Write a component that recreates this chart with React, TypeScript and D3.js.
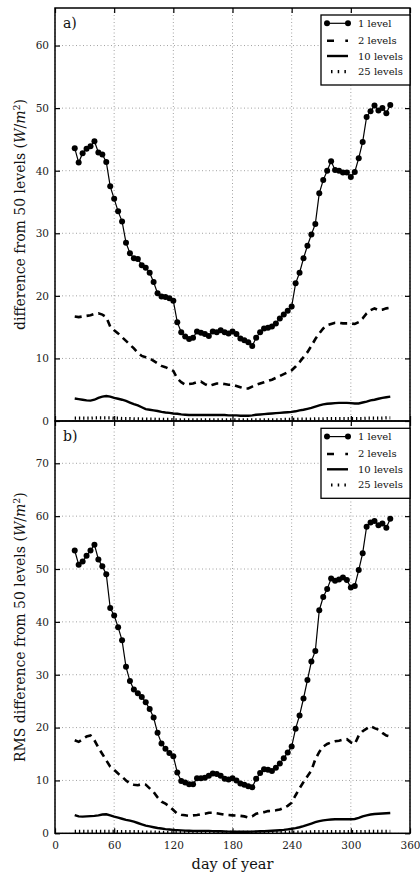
import { useEffect, useRef } from "react";
import * as d3 from "d3";

// sampling days (every 4th day of the year, 20..340)
const days = d3.range(20, 341, 4);

const xTicks = [0, 60, 120, 180, 240, 300, 360];
const yTicksA = [0, 10, 20, 30, 40, 50, 60];
const yTicksB = [0, 10, 20, 30, 40, 50, 60, 70];
const legendLabels = ["1 level", "2 levels", "10 levels", "25 levels"];

// panel a) difference from 50 levels
const a1 = [
  43.6, 41.3, 42.8, 43.5, 43.9, 44.7, 42.9, 42.6, 41.4, 37.5,
  35.5, 33.5, 31.9, 28.5, 26.8, 26.0, 25.9, 24.9, 24.5, 23.7,
  22.2, 20.4, 19.9, 19.8, 19.6, 19.2, 15.8, 14.2, 13.5, 13.1,
  13.3, 14.3, 14.1, 13.9, 13.6, 14.3, 14.2, 14.5, 14.2, 14.0,
  14.3, 13.9, 13.2, 12.9, 12.6, 12.0, 13.3, 14.2, 14.8, 14.9,
  15.1, 15.6, 16.4, 17.0, 17.6, 18.3, 22.0, 23.7, 26.0, 28.0,
  29.8, 31.5, 36.4, 38.5, 40.0, 41.5, 40.1, 40.0, 39.7, 39.7,
  39.0, 39.8, 42.0, 44.6, 48.6, 49.5, 50.4, 49.6, 50.0, 49.2,
  50.5,
];
const a2 = [
  16.7, 16.6, 16.7, 16.8, 16.9, 17.1, 17.2, 17.0, 16.6, 15.1,
  14.5, 14.0, 13.4, 12.8, 12.2, 11.6, 10.9, 10.4, 10.2, 10.0,
  9.6, 9.2, 8.8, 8.6, 8.3, 8.0, 6.8, 6.2, 5.8, 5.9,
  6.0, 6.2, 6.3, 5.9, 5.6, 5.8, 6.0, 6.0, 5.9, 5.8,
  5.8, 5.6, 5.4, 5.2, 5.2, 5.5, 5.8, 6.0, 6.2, 6.4,
  6.6, 6.9, 7.2, 7.5, 7.8, 8.1, 8.7, 9.4, 10.2, 11.0,
  12.0, 13.1, 14.0, 14.8, 15.3, 15.5, 15.7, 15.7, 15.6, 15.6,
  15.6, 15.5, 15.8, 16.4, 17.2, 17.7, 18.0, 17.7, 17.8, 18.0,
  18.1,
];
const a10 = [
  3.6, 3.5, 3.4, 3.3, 3.25, 3.4, 3.7, 3.9, 4.0, 3.9,
  3.7, 3.55, 3.4, 3.2, 2.95, 2.7, 2.5, 2.2, 1.9, 1.8,
  1.7, 1.6, 1.45, 1.35, 1.3, 1.2, 1.15, 1.05, 1.0, 0.95,
  0.95, 0.95, 0.95, 0.95, 0.95, 0.95, 0.95, 0.95, 0.95, 0.9,
  0.9, 0.9, 0.85, 0.85, 0.85, 0.9, 1.0, 1.05, 1.1, 1.15,
  1.2, 1.25, 1.3, 1.35, 1.4, 1.45, 1.55, 1.7, 1.8, 1.95,
  2.1, 2.3, 2.5, 2.65, 2.75, 2.8, 2.85, 2.9, 2.9, 2.9,
  2.85, 2.8, 2.8, 2.95, 3.1, 3.3, 3.4, 3.55, 3.7, 3.8,
  3.9,
];
const a25 = [
  0.45, 0.45, 0.45, 0.45, 0.45, 0.5, 0.5, 0.5, 0.5, 0.5,
  0.45, 0.45, 0.4, 0.4, 0.4, 0.35, 0.35, 0.3, 0.3, 0.3,
  0.3, 0.25, 0.25, 0.25, 0.25, 0.2, 0.2, 0.2, 0.2, 0.2,
  0.2, 0.2, 0.2, 0.2, 0.2, 0.2, 0.2, 0.2, 0.2, 0.2,
  0.2, 0.2, 0.2, 0.2, 0.2, 0.2, 0.2, 0.2, 0.2, 0.2,
  0.2, 0.2, 0.2, 0.25, 0.25, 0.25, 0.25, 0.3, 0.3, 0.3,
  0.3, 0.35, 0.35, 0.35, 0.4, 0.4, 0.4, 0.4, 0.4, 0.4,
  0.4, 0.4, 0.4, 0.4, 0.45, 0.45, 0.45, 0.45, 0.45, 0.5,
  0.5,
];

// panel b) RMS difference from 50 levels
const b1 = [
  53.5, 50.8, 51.4, 52.5, 53.5, 54.6, 51.8, 50.5, 49.0, 42.6,
  41.2, 39.0, 36.5, 31.5, 28.8, 27.2, 26.5, 25.8, 24.8, 23.5,
  21.9, 19.0, 17.0, 16.0, 15.2, 14.6, 11.5, 9.9, 9.6, 9.3,
  9.3, 10.4, 10.4, 10.5, 10.9, 11.3, 11.2, 10.9, 10.3, 10.2,
  10.4, 10.0, 9.4, 9.2, 8.9, 8.7, 10.3, 11.4, 12.1, 12.0,
  11.8, 12.4, 13.2, 14.2, 15.3, 16.4, 19.8, 22.3, 25.5, 29.0,
  32.5, 34.5, 42.2, 44.7, 46.2, 48.2, 47.8, 48.0, 48.4, 47.9,
  46.5, 46.8, 49.8, 53.0, 58.0, 58.8, 59.1, 58.3, 58.6, 57.8,
  59.5,
];
const b2 = [
  17.6, 17.3, 17.8, 18.3, 18.5, 17.6, 16.2, 15.0, 13.8, 12.6,
  12.0, 11.3, 10.7, 10.0, 9.45, 9.2, 9.1, 9.3, 9.2, 8.5,
  7.8, 6.8, 6.0, 5.6, 5.1, 4.4, 3.7, 3.5, 3.4, 3.3,
  3.4, 3.45, 3.6, 3.7, 3.9, 3.9, 3.8, 3.65, 3.5, 3.45,
  3.4, 3.35, 3.3, 3.2, 3.0, 3.2, 3.7, 3.9, 4.0, 4.2,
  4.25, 4.35, 4.5, 4.8, 5.2, 5.8, 7.2, 8.5, 9.7, 10.8,
  11.9, 14.0, 15.4, 16.4, 16.9, 17.2, 17.4, 17.5, 17.7, 17.8,
  17.2, 16.9, 18.5, 19.3, 19.8, 20.3, 19.9, 19.6, 19.0, 18.5,
  18.3,
];
const b10 = [
  3.45, 3.2, 3.15, 3.2, 3.25, 3.3, 3.4, 3.55, 3.6, 3.4,
  3.15, 2.95, 2.75, 2.55, 2.4, 2.2, 1.95, 1.7, 1.45, 1.3,
  1.15, 1.0, 0.9, 0.8, 0.72, 0.65, 0.6, 0.55, 0.5, 0.47,
  0.45, 0.45, 0.45, 0.45, 0.45, 0.42, 0.4, 0.38, 0.35, 0.32,
  0.3, 0.3, 0.3, 0.3, 0.3, 0.32, 0.35, 0.38, 0.4, 0.43,
  0.47, 0.52, 0.58, 0.65, 0.75, 0.85, 0.98, 1.15, 1.35, 1.6,
  1.85, 2.1, 2.3, 2.45, 2.55, 2.6, 2.65, 2.65, 2.65, 2.65,
  2.65, 2.7, 2.9, 3.2, 3.4, 3.55, 3.65, 3.7, 3.75, 3.8,
  3.85,
];
const b25 = [
  0.35, 0.35, 0.35, 0.35, 0.35, 0.35, 0.35, 0.35, 0.35, 0.35,
  0.35, 0.3, 0.3, 0.3, 0.3, 0.3, 0.3, 0.25, 0.25, 0.25,
  0.25, 0.2, 0.2, 0.2, 0.2, 0.2, 0.2, 0.2, 0.2, 0.2,
  0.2, 0.2, 0.2, 0.2, 0.2, 0.2, 0.2, 0.2, 0.2, 0.2,
  0.2, 0.2, 0.2, 0.2, 0.2, 0.2, 0.2, 0.2, 0.2, 0.2,
  0.2, 0.2, 0.2, 0.2, 0.2, 0.25, 0.25, 0.25, 0.25, 0.25,
  0.3, 0.3, 0.3, 0.3, 0.3, 0.3, 0.3, 0.3, 0.3, 0.3,
  0.3, 0.3, 0.3, 0.3, 0.35, 0.35, 0.35, 0.35, 0.35, 0.35,
  0.35,
];

const FONT = "DejaVu Serif";

export default function App() {
  const svgRef = useRef<SVGSVGElement>(null);

  useEffect(() => {
    if (!svgRef.current) return;
    const svg = d3.select(svgRef.current);
    svg.selectAll("*").remove();

    const left = 55;
    const right = 410;
    const x = d3.scaleLinear().domain([0, 360]).range([left, right]);

    const panels = [
      { top: 8, bottom: 421, yMax: 66, yTicks: yTicksA, series: [a1, a2, a10, a25], tag: "a)", label: "difference from 50 levels (", legendTop: 15, xLabels: false },
      { top: 421, bottom: 833.3, yMax: 78, yTicks: yTicksB, series: [b1, b2, b10, b25], tag: "b)", label: "RMS difference from 50 levels (", legendTop: 428.3, xLabels: true },
    ];

    panels.forEach((p) => {
      const y = d3.scaleLinear().domain([0, p.yMax]).range([p.bottom, p.top]);
      const g = svg.append("g");

      // dotted grid
      g.append("g").selectAll("line").data(xTicks).enter().append("line")
        .attr("x1", (d) => x(d)).attr("x2", (d) => x(d))
        .attr("y1", p.top).attr("y2", p.bottom)
        .attr("stroke", "#8a8a8a").attr("stroke-width", 0.8).attr("stroke-dasharray", "1,2.5");
      g.append("g").selectAll("line").data(p.yTicks).enter().append("line")
        .attr("x1", left).attr("x2", right)
        .attr("y1", (d) => y(d)).attr("y2", (d) => y(d))
        .attr("stroke", "#8a8a8a").attr("stroke-width", 0.8).attr("stroke-dasharray", "1,2.5");

      // axes, ticks pointing inward
      const styleAxis = (sel: any) => {
        sel.select(".domain").remove();
        sel.selectAll("line").attr("stroke", "#000").attr("stroke-width", 1.2);
        sel.selectAll("text").attr("font-family", FONT).attr("font-size", 10.5).attr("fill", "#222");
      };
      g.append("g").attr("transform", `translate(${left},0)`)
        .call(d3.axisLeft(y).tickValues(p.yTicks).tickSize(-5).tickPadding(6).tickFormat(d3.format("d")))
        .call(styleAxis);
      g.append("g").attr("transform", `translate(${right},0)`)
        .call(d3.axisRight(y).tickValues(p.yTicks).tickSize(-5).tickFormat(() => ""))
        .call(styleAxis);
      g.append("g").attr("transform", `translate(0,${p.top})`)
        .call(d3.axisTop(x).tickValues(xTicks).tickSize(-5).tickFormat(() => ""))
        .call(styleAxis);
      g.append("g").attr("transform", `translate(0,${p.bottom})`)
        .call(d3.axisBottom(x).tickValues(xTicks).tickSize(-5).tickPadding(8)
          .tickFormat((d: any) => (p.xLabels ? String(d) : "")))
        .call(styleAxis);

      // series
      const line = d3.line<number>().x((_, i) => x(days[i])).y((d) => y(d));
      const [s1, s2, s10, s25] = p.series;

      g.append("path").datum(s25).attr("d", line).attr("fill", "none")
        .attr("stroke", "#000").attr("stroke-width", 3.2).attr("stroke-dasharray", "1.3,2.9");
      g.append("path").datum(s10).attr("d", line).attr("fill", "none")
        .attr("stroke", "#000").attr("stroke-width", 2.4);
      g.append("path").datum(s2).attr("d", line).attr("fill", "none")
        .attr("stroke", "#000").attr("stroke-width", 2.6).attr("stroke-dasharray", "7,5");
      g.append("path").datum(s1).attr("d", line).attr("fill", "none")
        .attr("stroke", "#000").attr("stroke-width", 1.2);
      g.append("g").selectAll("circle").data(s1).enter().append("circle")
        .attr("cx", (_, i) => x(days[i])).attr("cy", (d) => y(d))
        .attr("r", 3).attr("fill", "#000");

      // frame
      g.append("rect").attr("x", left).attr("y", p.top)
        .attr("width", right - left).attr("height", p.bottom - p.top)
        .attr("fill", "none").attr("stroke", "#000").attr("stroke-width", 1.5);

      // panel tag
      g.append("text").attr("x", 63).attr("y", p.top + 20)
        .attr("font-family", FONT).attr("font-size", 14).attr("fill", "#111").text(p.tag);

      // y label
      const cy = (p.top + p.bottom) / 2;
      const lab = g.append("text")
        .attr("transform", `translate(25,${cy}) rotate(-90)`)
        .attr("text-anchor", "middle")
        .attr("font-family", FONT).attr("font-size", 14).attr("fill", "#111");
      lab.append("tspan").text(p.label);
      lab.append("tspan").attr("font-style", "italic").text("W");
      lab.append("tspan").text("/");
      lab.append("tspan").attr("font-style", "italic").text("m");
      lab.append("tspan").attr("font-size", 9.5).attr("dy", "-0.55em").text("2");
      lab.append("tspan").attr("dy", "0.4em").text(")");

      // legend
      const lg = g.append("g").attr("transform", `translate(321,${p.legendTop})`);
      lg.append("rect").attr("width", 89).attr("height", 70)
        .attr("fill", "#fff").attr("stroke", "#000").attr("stroke-width", 1.3);
      const rowY = [8.3, 25.7, 41, 56.7];
      legendLabels.forEach((name, i) => {
        const ry = rowY[i];
        const l = lg.append("line").attr("x1", 6).attr("x2", 27).attr("y1", ry).attr("y2", ry)
          .attr("stroke", "#000");
        if (i === 0) {
          l.attr("stroke-width", 1.2);
          [6, 27].forEach((cx) => lg.append("circle").attr("cx", cx).attr("cy", ry).attr("r", 3).attr("fill", "#000"));
        } else if (i === 1) {
          l.attr("stroke-width", 2.6).attr("stroke-dasharray", "7,11.3");
        } else if (i === 2) {
          l.attr("stroke-width", 2.4);
        } else {
          l.attr("stroke-width", 3.2).attr("stroke-dasharray", "1.5,5.2").attr("x1", 10);
        }
        lg.append("text").attr("x", 37).attr("y", ry).attr("dy", "0.35em")
          .attr("font-family", FONT).attr("font-size", 10).attr("fill", "#111").text(name);
      });
    });

    // x label
    svg.append("text").attr("x", (left + right) / 2).attr("y", 869)
      .attr("text-anchor", "middle").attr("font-family", FONT).attr("font-size", 14.5)
      .attr("fill", "#111").text("day of year");
  }, []);

  return (
    <svg
      ref={svgRef}
      width={420}
      height={877}
      style={{ position: "absolute", left: 0, top: 0, background: "#fff" }}
    />
  );
}
